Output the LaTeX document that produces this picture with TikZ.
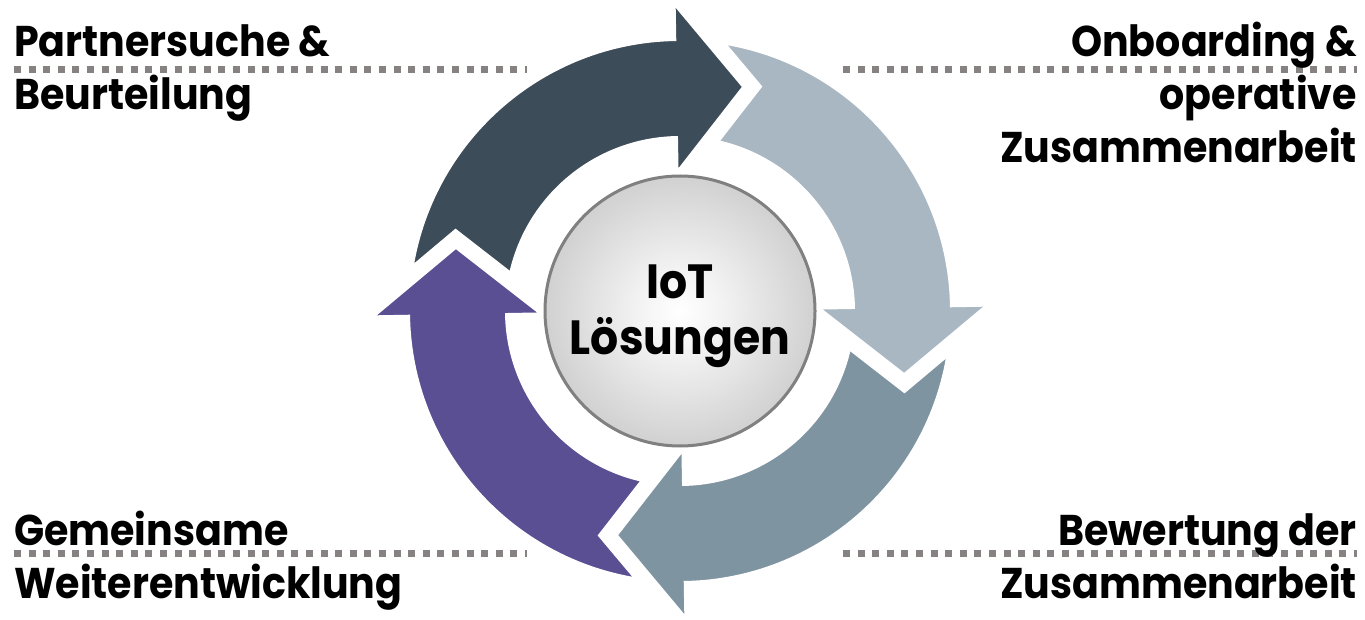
\documentclass[tikz,border=0pt]{standalone}
\usepackage{fontspec}
\setmainfont{Poppins}[UprightFont=* Bold, FakeStretch=0.92]
\definecolor{darkc}{RGB}{61,76,89}
\definecolor{lightc}{RGB}{168,183,194}
\definecolor{steelc}{RGB}{127,148,161}
\definecolor{purplec}{RGB}{91,79,148}
\definecolor{dotc}{RGB}{134,130,130}
\definecolor{rimc}{RGB}{128,128,128}
\pgfdeclareradialshading{ballshade}{\pgfpoint{0bp}{0bp}}{rgb(0bp)=(1,1,1); rgb(8bp)=(0.95,0.95,0.95); rgb(30bp)=(0.78,0.78,0.78); rgb(50bp)=(0.66,0.66,0.66)}
\newcommand{\cycarrow}[1]{%
  \fill[#1, draw=white, line width=2pt, line join=miter]
    (169.4:271) arc[start angle=169.4, end angle=90, radius=271]
    -- (90:306) -- (67,223) -- (90:140) -- (90:174)
    arc[start angle=90, end angle=166.2, radius=174]
    -- (-223,85) -- cycle;}
\tikzset{
  lbl/.style={inner sep=0pt, font=\fontsize{43}{53}\selectfont, text=black},
  ctr/.style={inner sep=0pt, font=\fontsize{48}{56}\selectfont, text=black},
  dots/.style={dotc, line width=7pt, dash pattern=on 7pt off 7.6pt}
}
\begin{document}
\begin{tikzpicture}[x=1pt, y=1pt]
\useasboundingbox (0,0) rectangle (1365,619);
% centre ball
\node[circle, minimum size=270pt, inner sep=0pt, shading=ballshade, draw=rimc, line width=3pt] (core) at (680,308) {};
% arrows
\begin{scope}[shift={(680,308)}, rotate=1]
  \cycarrow{darkc}
  \begin{scope}[rotate=-90]\cycarrow{lightc}\end{scope}
  \begin{scope}[rotate=-180]\cycarrow{steelc}\end{scope}
  \begin{scope}[rotate=-270]\cycarrow{purplec}\end{scope}
\end{scope}
\node[ctr, anchor=base] (iot1) at (680,320) {IoT};
\node[ctr, anchor=base] (iot2) at (680,264) {Lösungen};
% dotted lines
\coordinate (tl1) at (14,549); \coordinate (tl2) at (527,549);
\coordinate (tr1) at (843,549); \coordinate (tr2) at (1357,549);
\coordinate (bl1) at (14,66); \coordinate (bl2) at (527,66);
\coordinate (br1) at (843,66); \coordinate (br2) at (1357,66);
\draw[dots] (tl1) -- (tl2);
\draw[dots] (tr1) -- (tr2);
\draw[dots] (bl1) -- (bl2);
\draw[dots] (br1) -- (br2);
% labels
\node[lbl, anchor=base west] (p1) at (14,562) {Partnersuche \&};
\node[lbl, anchor=base west] (p2) at (14,509) {Beurteilung};
\node[lbl, anchor=base east] (o1) at (1357,562) {Onboarding \&};
\node[lbl, anchor=base east] (o2) at (1357,509) {operative};
\node[lbl, anchor=base east] (o3) at (1357,456) {Zusammenarbeit};
\node[lbl, anchor=base west] (g1) at (14,74) {Gemeinsame};
\node[lbl, anchor=base west] (g2) at (14,21) {Weiterentwicklung};
\node[lbl, anchor=base east] (b1) at (1357,74) {Bewertung der};
\node[lbl, anchor=base east] (b2) at (1357,21) {Zusammenarbeit};
\end{tikzpicture}
\end{document}
